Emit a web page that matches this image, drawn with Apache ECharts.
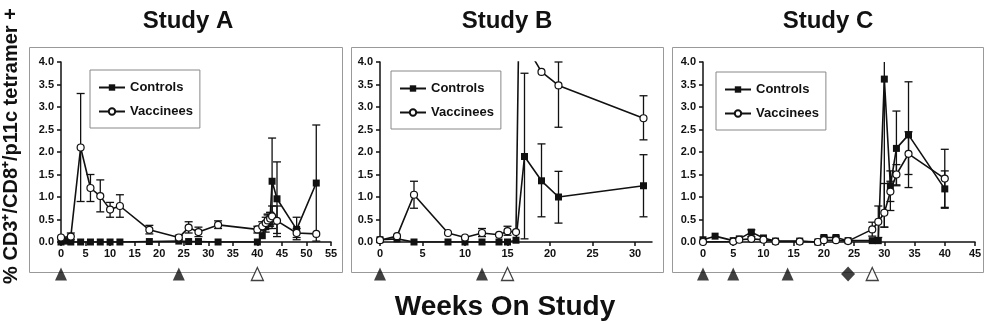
<!DOCTYPE html>
<html>
<head>
<meta charset="utf-8">
<script src="https://cdn.jsdelivr.net/npm/echarts@6/dist/echarts.min.js"></script>
<style>
  html, body { margin: 0; padding: 0; background: #fff; }
  #chart { width: 988px; height: 324px; }
</style>
</head>
<body>
<div id="chart"></div>
<script>
// ---- data ----
const panelTitles = ["Study A", "Study B", "Study C"];
const xMax = [55, 32, 45];
const xTicksA = [0, 5, 10, 15, 20, 25, 30, 35, 40, 45, 50, 55];
const xTicksB = [0, 5, 10, 15, 20, 25, 30];
const xTicksC = [0, 5, 10, 15, 20, 25, 30, 35, 40, 45];

// Study A
const ctrlWeeksA = [0, 1, 2, 4, 6, 8, 10, 12, 18, 24, 26, 28, 32, 40, 41, 41.7, 42.1, 42.6, 43, 44, 48, 52];
const ctrlA = [0, 0.02, 0, 0, 0, 0, 0, 0, 0.01, 0.02, 0.01, 0.01, 0, 0, 0.14, 0.34, 0.45, 0.52, 1.35, 0.96, 0.28, 1.31];
const ctrlLowA = [null, null, null, null, null, null, null, null, null, null, null, null, null, null, null, 0.22, 0.3, 0.35, 0.4, 0.19, 0.05, 0.02];
const ctrlHighA = [null, null, null, null, null, null, null, null, null, null, null, null, null, null, null, 0.46, 0.6, 0.65, 2.31, 1.78, 0.55, 2.6];
const vacWeeksA = [0, 2, 4, 6, 8, 10, 12, 18, 24, 26, 28, 32, 40, 41, 41.7, 42.1, 42.6, 43, 44, 48, 52];
const vacA = [0.1, 0.12, 2.1, 1.2, 1.02, 0.72, 0.8, 0.27, 0.1, 0.32, 0.22, 0.38, 0.28, 0.35, 0.42, 0.48, 0.52, 0.57, 0.47, 0.2, 0.18];
const vacLowA = [null, 0.05, 0.9, 0.9, 0.67, 0.55, 0.55, 0.18, 0.05, 0.2, 0.12, 0.3, 0.2, 0.25, 0.3, 0.35, 0.38, 0.3, 0.12, 0.1, null];
const vacHighA = [null, 0.2, 3.3, 1.5, 1.38, 0.88, 1.05, 0.37, 0.15, 0.45, 0.33, 0.47, 0.35, 0.45, 0.55, 0.62, 0.66, 0.8, 0.8, 0.3, null];

// Study B
const ctrlWeeksB = [0, 2, 4, 8, 10, 12, 14, 15, 16, 17, 19, 21, 31];
const ctrlB = [0.05, 0.07, 0, 0, 0, 0, 0, 0, 0.04, 1.9, 1.36, 1.0, 1.25];
const ctrlLowB = [null, null, null, null, null, null, null, null, null, 0.07, 0.56, 0.42, 0.56];
const ctrlHighB = [null, null, null, null, null, null, null, null, null, 3.75, 2.18, 1.57, 1.94];
const vacWeeksB = [0, 2, 4, 8, 10, 12, 14, 15, 16, 17, 18, 19, 21, 31];
const vacB = [0.04, 0.13, 1.05, 0.2, 0.1, 0.2, 0.16, 0.24, 0.22, 14, 4.1, 3.78, 3.48, 2.75];
const vacLowB = [null, null, 0.75, null, null, 0.12, null, 0.15, null, null, null, null, 2.55, 2.27];
const vacHighB = [null, null, 1.35, null, null, 0.3, null, 0.35, null, null, null, null, 4.0, 3.25];

// Study C
const ctrlWeeksC = [0, 2, 5, 6, 8, 10, 12, 16, 19, 20, 22, 24, 28, 29, 30, 31, 32, 34, 40];
const ctrlC = [0.05, 0.13, 0.03, 0.07, 0.22, 0.09, 0.02, 0.02, 0, 0.1, 0.1, 0.03, 0.03, 0.03, 3.62, 1.25, 2.08, 2.38, 1.18];
const ctrlLowC = [null, null, null, null, 0.12, null, null, null, null, 0.05, 0.05, null, null, null, 0.33, 0.7, 1.25, 1.21, 0.75];
const ctrlHighC = [null, null, null, null, 0.27, null, null, null, null, 0.13, 0.13, null, null, null, 4.6, 1.58, 2.91, 3.56, 2.06];
const vacWeeksC = [0, 5, 6, 8, 10, 12, 16, 19, 20, 22, 24, 28, 29, 30, 31, 32, 34, 40];
const vacC = [0, 0.01, 0.05, 0.07, 0.05, 0.01, 0.01, 0, 0.04, 0.04, 0.02, 0.28, 0.45, 0.65, 1.12, 1.5, 1.96, 1.41];
const vacLowC = [null, null, null, null, null, null, null, null, null, null, null, 0.13, 0.1, 0.33, 0.9, 1.27, 1.5, 0.77];
const vacHighC = [null, null, null, null, null, null, null, null, null, null, null, 0.44, 0.8, 1.3, 1.35, 1.72, 2.45, 1.58];

// immunisation / challenge marks under each axis
const boostA = [0, 24], challengeA = [40];
const boostB = [0, 12], challengeB = [15];
const boostC = [0, 5, 14], otherC = [24], challengeC = [28];

// ---- layout ----
const FONT = "'Liberation Sans', Arial, Helvetica, sans-serif";
const INK = "#111";
const grids = [
  { left: 61, width: 270 },
  { left: 380, width: 272 },
  { left: 703, width: 272 },
];
const boxes = [[29, 47, 313, 225], [351, 47, 312, 225], [672, 47, 311, 225]];
const legendPos = [[90, 70], [391, 71], [716, 72]];
const titleX = [183, 502, 823];
const xTicks = [xTicksA, xTicksB, xTicksC];

const zip = (w, v) => w.map((x, i) => [x, v[i]]);
const errData = (w, lo, hi) => {
  const out = [];
  w.forEach((x, i) => { if (lo[i] != null) out.push([x, lo[i], hi[i]]); });
  return out;
};

function errorBars(idx, data) {
  return {
    type: "custom",
    xAxisIndex: idx,
    yAxisIndex: idx,
    silent: true,
    z: 1,
    data,
    renderItem: (params, api) => {
      const x = api.value(0);
      const lo = api.coord([x, api.value(1)]);
      const hi = api.coord([x, api.value(2)]);
      const cs = params.coordSys;
      const top = Math.max(hi[1], cs.y);
      const st = { stroke: INK, lineWidth: 1.3 };
      const kids = [
        { type: "line", shape: { x1: lo[0], y1: lo[1], x2: lo[0], y2: top }, style: st },
        { type: "line", shape: { x1: lo[0] - 4, y1: lo[1], x2: lo[0] + 4, y2: lo[1] }, style: st },
      ];
      if (hi[1] >= cs.y - 0.5) {
        kids.push({ type: "line", shape: { x1: hi[0] - 4, y1: hi[1], x2: hi[0] + 4, y2: hi[1] }, style: st });
      }
      return { type: "group", children: kids };
    },
  };
}

function ctrlSeries(idx, data) {
  return {
    name: "Controls", type: "line", xAxisIndex: idx, yAxisIndex: idx, data,
    symbol: "rect", symbolSize: 7, z: 3, clip: true,
    lineStyle: { color: INK, width: 1.6 },
    itemStyle: { color: INK },
  };
}
function vacSeries(idx, data) {
  return {
    name: "Vaccinees", type: "line", xAxisIndex: idx, yAxisIndex: idx, data,
    symbol: "circle", symbolSize: 7, z: 4, clip: true, showAllSymbol: true,
    lineStyle: { color: INK, width: 1.6 },
    itemStyle: { color: "#fff", borderColor: INK, borderWidth: 1.2 },
  };
}
function marks(idx, weeks, symbol, filled) {
  return {
    type: "scatter", xAxisIndex: idx, yAxisIndex: idx, silent: true, z: 5,
    data: weeks.map((w) => [w, 0.5]),
    symbol, symbolSize: symbol === "diamond" ? [14, 15] : [12, 13],
    itemStyle: filled ? { color: INK } : { color: "#fff", borderColor: INK, borderWidth: 1.3 },
  };
}

const axisFont = { fontFamily: FONT, fontWeight: "bold", fontSize: 11, color: INK };

const gridOpts = [], xAxes = [], yAxes = [];
grids.forEach((g, i) => {
  gridOpts.push({ left: g.left, width: g.width, top: 62, height: 180 });
  xAxes.push({
    type: "value", gridIndex: i, min: 0, max: xMax[i],
    axisLine: { lineStyle: { color: INK, width: 1.5 } },
    axisTick: { show: true, length: 4, lineStyle: { color: INK, width: 1.5 }, customValues: xTicks[i] },
    axisLabel: { ...axisFont, margin: 6, customValues: xTicks[i] },
    splitLine: { show: false },
  });
  yAxes.push({
    type: "value", gridIndex: i, min: 0, max: 4, interval: 0.5,
    axisLine: { show: true, lineStyle: { color: INK, width: 1.5 } },
    axisTick: { show: true, length: 4, lineStyle: { color: INK, width: 1.5 } },
    axisLabel: { ...axisFont, margin: 7, formatter: (v) => v.toFixed(1) },
    splitLine: { show: false },
  });
});
// thin strips under each panel for the dosing marks
grids.forEach((g, i) => {
  gridOpts.push({ left: g.left, width: g.width, top: 266, height: 16 });
  xAxes.push({ type: "value", gridIndex: 3 + i, min: 0, max: xMax[i], show: false });
  yAxes.push({ type: "value", gridIndex: 3 + i, min: 0, max: 1, show: false });
});

const series = [
  errorBars(0, errData(ctrlWeeksA, ctrlLowA, ctrlHighA)),
  errorBars(0, errData(vacWeeksA, vacLowA, vacHighA)),
  ctrlSeries(0, zip(ctrlWeeksA, ctrlA)),
  vacSeries(0, zip(vacWeeksA, vacA)),
  errorBars(1, errData(ctrlWeeksB, ctrlLowB, ctrlHighB)),
  errorBars(1, errData(vacWeeksB, vacLowB, vacHighB)),
  ctrlSeries(1, zip(ctrlWeeksB, ctrlB)),
  vacSeries(1, zip(vacWeeksB, vacB)),
  errorBars(2, errData(ctrlWeeksC, ctrlLowC, ctrlHighC)),
  errorBars(2, errData(vacWeeksC, vacLowC, vacHighC)),
  ctrlSeries(2, zip(ctrlWeeksC, ctrlC)),
  vacSeries(2, zip(vacWeeksC, vacC)),
  marks(3, boostA, "triangle", true),
  marks(3, challengeA, "triangle", false),
  marks(4, boostB, "triangle", true),
  marks(4, challengeB, "triangle", false),
  marks(5, boostC, "triangle", true),
  marks(5, otherC, "diamond", true),
  marks(5, challengeC, "triangle", false),
];

const legends = legendPos.map(([l, t]) => ({
  left: l, top: t, orient: "vertical",
  data: ["Controls", "Vaccinees"],
  itemWidth: 26, itemHeight: 8, itemGap: 11,
  padding: [11, 7, 10, 8],
  borderColor: "#888", borderWidth: 1,
  selectedMode: false,
  textStyle: { fontFamily: FONT, fontWeight: "bold", fontSize: 13, color: INK },
}));

const titles = panelTitles.map((t, i) => ({
  text: t, left: titleX[i], top: 4, textAlign: "center",
  textStyle: { fontFamily: FONT, fontWeight: "bold", fontSize: 24, color: INK },
}));
titles.push({
  text: "Weeks On Study", left: 500, top: 288, textAlign: "center",
  textStyle: { fontFamily: FONT, fontWeight: "bold", fontSize: 28, color: INK },
});

const graphics = boxes.map(([x, y, w, h]) => ({
  type: "rect", z: -1, shape: { x: x + 0.5, y: y + 0.5, width: w, height: h },
  style: { fill: "none", stroke: "#999", lineWidth: 1 },
}));
graphics.push({
  type: "text", x: 11, y: 146, rotation: Math.PI / 2,
  style: {
    text: "% CD3\u207A/CD8\u207A/p11c tetramer +",
    font: "bold 20px " + FONT, fill: INK,
    textAlign: "center", textVerticalAlign: "middle",
  },
});

const chart = echarts.init(document.getElementById("chart"), null, { renderer: "canvas" });
chart.setOption({
  backgroundColor: "#fff",
  animation: false,
  title: titles,
  legend: legends,
  grid: gridOpts,
  xAxis: xAxes,
  yAxis: yAxes,
  graphic: graphics,
  series,
});
</script>
</body>
</html>
